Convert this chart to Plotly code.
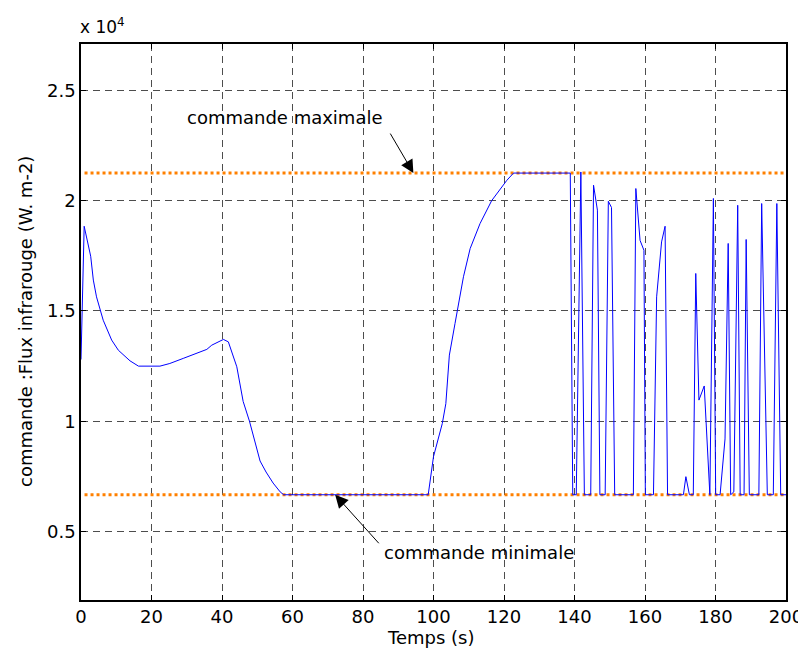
import plotly.graph_objects as go

# values are in units of 1e4 W.m-2 (axis shows "x 10^4")
temps = [0, 0.9, 2.75, 3.5, 4.4, 6.3, 8.7, 10.6, 13.9, 16.3, 22.4, 25.2, 29, 32.8, 35.7,
         37.1, 40.4, 41.8, 44.2, 46, 47.8, 50.8, 52.5, 54.5, 56.5, 57.5,
         98.5, 100, 102.5, 103.5, 104.5, 106.1, 107, 108.5, 110.4, 113.2, 116.5, 117.9,
         120.8, 122.7, 138.8,
         139.5, 140.5, 141.8, 142.8, 144.6, 145.4, 146.5, 147.2, 148.7, 149.6, 150.5,
         151.4, 156.7, 157.4, 158.6, 159.7, 160.1, 162.4, 163.3, 164.7, 165.7, 166.4,
         170.9, 171.6, 172.6, 173.7, 174.4, 175.3, 176.8, 178.4, 179.4, 180.05, 181.3,
         182.7, 183.6, 184.3, 185.2, 186.3, 187.0, 188.1, 188.7, 189.6, 192.3, 193.1,
         194.7, 196.4, 197.4, 198.5, 200]
commande = [1.28, 1.884, 1.748, 1.64, 1.564, 1.458, 1.368, 1.322, 1.274, 1.25, 1.25, 1.262,
            1.285, 1.307, 1.326, 1.345, 1.371, 1.36, 1.247, 1.09, 1.0, 0.82, 0.77, 0.72,
            0.68, 0.667,
            0.667, 0.84, 0.99, 1.08, 1.30, 1.443, 1.519, 1.655, 1.783, 1.896, 2.0, 2.029,
            2.092, 2.125, 2.125,
            0.667, 0.667, 2.13, 0.667, 0.667, 2.07, 1.957, 0.667, 0.667, 1.997, 1.969,
            0.667, 0.667, 2.055, 1.82, 1.775, 0.667, 0.667, 1.564, 1.813, 1.884, 0.667,
            0.667, 0.749, 0.667, 0.667, 1.67, 1.096, 1.16, 0.667, 2.01, 0.667, 0.667,
            0.92, 1.806, 0.667, 0.68, 1.979, 0.667, 0.667, 1.824, 0.667, 0.667, 1.987,
            0.667, 0.667, 1.987, 0.667, 0.667]

borne_t = [1, 200]
cmd_max = 2.125
cmd_min = 0.667

x_ticks = [0, 20, 40, 60, 80, 100, 120, 140, 160, 180, 200]
y_ticks = [0.5, 1, 1.5, 2, 2.5]
y_labels = ["0.5", "1", "1.5", "2", "2.5"]

fnt = "DejaVu Sans, sans-serif"

fig = go.Figure()
fig.add_trace(go.Scatter(x=borne_t, y=[cmd_max, cmd_max], mode="lines",
                         line=dict(color="#ff8000", width=3, dash="dot"), showlegend=False))
fig.add_trace(go.Scatter(x=borne_t, y=[cmd_min, cmd_min], mode="lines",
                         line=dict(color="#ff8000", width=3, dash="dot"), showlegend=False))
fig.add_trace(go.Scatter(x=temps, y=commande, mode="lines",
                         line=dict(color="#0000ff", width=1), showlegend=False))

# annotations
fig.add_annotation(x=58.0, y=2.378, text="commande maximale", showarrow=False,
                   font=dict(size=18, color="black", family=fnt))
fig.add_annotation(x=94.3, y=cmd_max, text="", showarrow=True, ax=-24, ay=-41,
                   arrowhead=2, arrowsize=2.6, arrowwidth=1, arrowcolor="black")
fig.add_annotation(x=112.9, y=0.4035, text="commande minimale", showarrow=False,
                   font=dict(size=18, color="black", family=fnt))
fig.add_annotation(x=72.1, y=cmd_min, text="", showarrow=True, ax=45, ay=50,
                   arrowhead=2, arrowsize=2.6, arrowwidth=1, arrowcolor="black")
fig.add_annotation(x=0, y=1, xref="paper", yref="paper", xanchor="left", yanchor="bottom",
                   text="x 10<sup>4</sup>", showarrow=False, yshift=5, xshift=-3,
                   font=dict(size=17, color="black", family=fnt))
# axis titles
fig.add_annotation(x=0.497, y=0, xref="paper", yref="paper", yshift=-37,
                   xanchor="center", yanchor="middle",
                   text="Temps (s)", showarrow=False,
                   font=dict(size=18, color="black", family=fnt))
fig.add_annotation(x=0, y=0.5, xref="paper", yref="paper", xshift=-56, textangle=-90,
                   xanchor="center", yanchor="middle",
                   text="commande :Flux infrarouge (W. m-2)", showarrow=False,
                   font=dict(size=18, color="black", family=fnt))

fig.update_xaxes(range=[0, 200], tickvals=x_ticks, ticks="inside", ticklen=5,
                 tickcolor="black", showline=True, linecolor="black", linewidth=1.5,
                 mirror="ticks", showgrid=True, gridcolor="#4d4d4d", griddash="7px,5px",
                 gridwidth=1, zeroline=False, automargin=False,
                 tickfont=dict(size=18, family=fnt, color="black"))
fig.update_yaxes(range=[0.19, 2.71], tickvals=y_ticks, ticktext=y_labels, ticks="inside",
                 ticklen=5, tickcolor="black", showline=True, linecolor="black",
                 linewidth=1.5, mirror="ticks", showgrid=True, gridcolor="#4d4d4d",
                 griddash="7px,5px", gridwidth=1, zeroline=False, automargin=False,
                 tickfont=dict(size=18, family=fnt, color="black"))

# the page adds an 8px body margin, so the figure is sized to fit inside it
fig.update_layout(width=798, height=651, margin=dict(l=73, r=20, t=36, b=59),
                  plot_bgcolor="white", paper_bgcolor="white", showlegend=False)

fig.write_html("out.html")
